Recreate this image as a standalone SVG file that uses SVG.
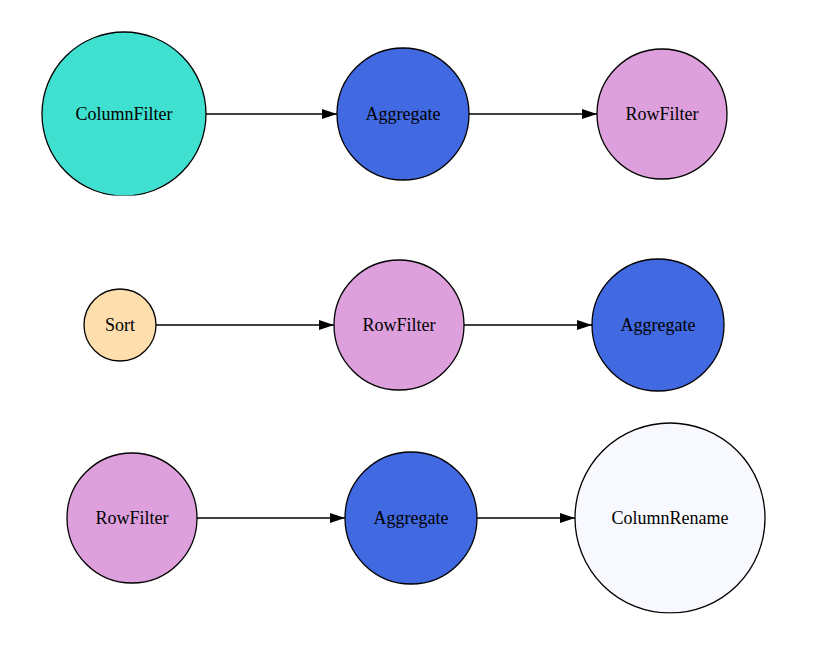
<svg xmlns="http://www.w3.org/2000/svg" width="816" height="645" viewBox="0 0 816 645">
<defs>
<style>
.n{stroke:#000;stroke-width:1.3}
.t{font-family:"Liberation Serif","Times New Roman",serif;font-size:18px;fill:#000;text-anchor:middle;dominant-baseline:central}
.e{stroke:#000;stroke-width:1.3;fill:none;marker-end:url(#a)}
</style>
<marker id="a" viewBox="0 0 15 10" refX="15" refY="5" markerWidth="15" markerHeight="10" markerUnits="userSpaceOnUse" orient="auto">
<path d="M0,0L15,5L0,10z" fill="#000"/>
</marker>
<clipPath id="c1"><rect x="0" y="0" width="816" height="195.5"/></clipPath>
<clipPath id="c2"><rect x="0" y="0" width="816" height="613.5"/></clipPath>
</defs>
<rect width="816" height="645" fill="#fff"/>
<g id="edges">
<line class="e" x1="206" y1="114" x2="337" y2="114"/>
<line class="e" x1="469" y1="114" x2="597" y2="114"/>
<line class="e" x1="156" y1="325" x2="334" y2="325"/>
<line class="e" x1="464" y1="325" x2="592" y2="325"/>
<line class="e" x1="197" y1="518" x2="345" y2="518"/>
<line class="e" x1="477" y1="518" x2="575" y2="518"/>
</g>
<g id="n1"><circle class="n" cx="124" cy="114" r="82" fill="#40E0D0" clip-path="url(#c1)"/><text class="t" x="124" y="114">ColumnFilter</text></g>
<g id="n2"><circle class="n" cx="403" cy="114" r="66" fill="#4169E1"/><text class="t" x="403" y="114">Aggregate</text></g>
<g id="n3"><circle class="n" cx="662" cy="114" r="65" fill="#DDA0DD"/><text class="t" x="662" y="114">RowFilter</text></g>
<g id="n4"><circle class="n" cx="120" cy="325" r="36" fill="#FFDEAD"/><text class="t" x="120" y="325">Sort</text></g>
<g id="n5"><circle class="n" cx="399" cy="325" r="65" fill="#DDA0DD"/><text class="t" x="399" y="325">RowFilter</text></g>
<g id="n6"><circle class="n" cx="658" cy="325" r="66" fill="#4169E1"/><text class="t" x="658" y="325">Aggregate</text></g>
<g id="n7"><circle class="n" cx="132" cy="518" r="65" fill="#DDA0DD"/><text class="t" x="132" y="518">RowFilter</text></g>
<g id="n8"><circle class="n" cx="411" cy="518" r="66" fill="#4169E1"/><text class="t" x="411" y="518">Aggregate</text></g>
<g id="n9"><circle class="n" cx="670" cy="518" r="95" fill="#F8F8FF" clip-path="url(#c2)"/><text class="t" x="670" y="518">ColumnRename</text></g>
</svg>
